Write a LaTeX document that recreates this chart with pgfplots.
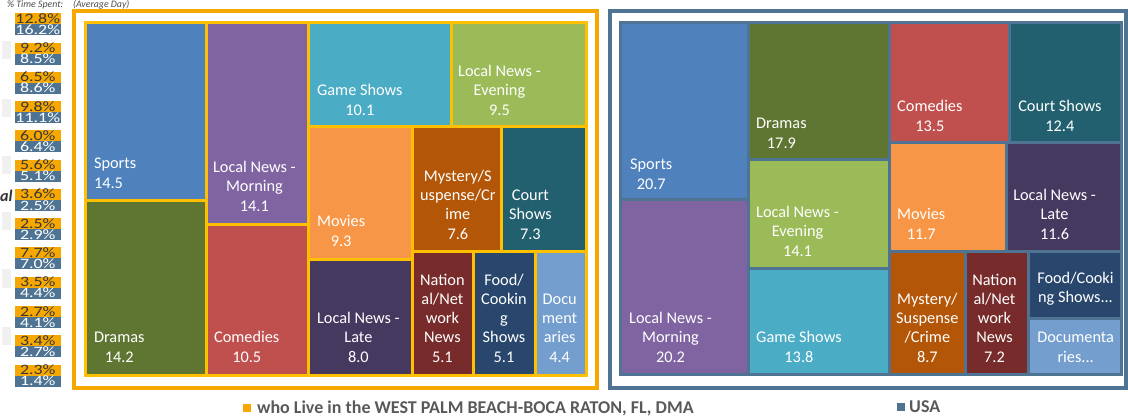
\documentclass[border=0pt]{standalone}
\usepackage{pgfplots}
\pgfplotsset{compat=1.18}
\usepackage{fontspec}
\setmainfont{Carlito}

\definecolor{frameor}{HTML}{F6A800}
\definecolor{tilebd}{HTML}{FFC000}
\definecolor{steel}{HTML}{4F7392}
\definecolor{cSports}{HTML}{4F81BD}
\definecolor{cDramas}{HTML}{5F7632}
\definecolor{cMorning}{HTML}{8064A2}
\definecolor{cComedies}{HTML}{C0504D}
\definecolor{cGame}{HTML}{4BACC6}
\definecolor{cEvening}{HTML}{9BBB59}
\definecolor{cMovies}{HTML}{F79646}
\definecolor{cLate}{HTML}{463960}
\definecolor{cMystery}{HTML}{B35608}
\definecolor{cCourt}{HTML}{22606F}
\definecolor{cNational}{HTML}{772B2A}
\definecolor{cFood}{HTML}{29476D}
\definecolor{cDoc}{HTML}{739ECE}
\definecolor{legtext}{HTML}{595959}

% filled rectangle x0 y0 x1 y1 colour
\newcommand{\tile}[5]{\addplot[draw=none,fill=#5] coordinates {(#1,#2) (#3,#2) (#3,#4) (#1,#4)};}
% percentage box: top, middle, bottom, DMA value, USA value
\newcommand{\pct}[5]{%
  \addplot[draw=none,fill=frameor] coordinates {(13,#1) (59,#1) (59,#2) (13,#2)};
  \addplot[draw=none,fill=steel] coordinates {(13,#2) (59,#2) (59,#3) (13,#3)};
  \node[pctlab,text=black!78] at (axis cs:36,#2) {\scalebox{1.25}[1]{#4}};
  \node[pctlab,text=white] at (axis cs:36,#3) {\scalebox{1.25}[1]{#5}};
}

\begin{document}
\begin{tikzpicture}[
  lab/.style={anchor=south west,inner sep=0pt,align=center,text=white,
    font=\fontsize{11.6}{13.6}\selectfont},
  pctlab/.style={anchor=base,inner sep=0pt,font=\fontsize{10.2}{10.2}\selectfont,yshift=0.7pt},
  legfont/.style={anchor=west,inner sep=0pt,text=legtext,font=\fontsize{12.8}{13}\selectfont\bfseries},
]
\begin{axis}[
  scale only axis,
  width=28.2cm, height=10.625cm,
  xmin=0, xmax=1128, ymin=0, ymax=425,
  y dir=reverse,
  hide axis,
  clip=false,
]
% header fragments
\node[anchor=west,inner sep=0pt,text=black!70,font=\fontsize{7}{7}\selectfont\itshape] at (axis cs:5,6) {\% Time Spent:};
\node[anchor=west,inner sep=0pt,text=black!70,font=\fontsize{7}{7}\selectfont\itshape] at (axis cs:71,6) {(Average Day)};

% cut-off row labels on the left
\tile{0}{43}{9}{61}{black!6}
\tile{0}{101}{9}{119}{black!6}
\tile{0}{158}{9}{176}{black!6}
\tile{0}{214}{9}{232}{black!6}
\tile{0}{271}{9}{289}{black!6}
\tile{0}{328}{9}{346}{black!6}
\node[anchor=base east,inner sep=0pt,text=black!80,font=\fontsize{11.5}{12}\selectfont\bfseries\itshape] at (axis cs:11,203) {al};

% percentage of time spent: DMA / USA
\pct{15.0}{26.0}{37.0}{12.8\%}{16.2\%}
\pct{44.25}{55.25}{66.25}{9.2\%}{8.5\%}
\pct{73.5}{84.5}{95.5}{6.5\%}{8.6\%}
\pct{102.75}{113.75}{124.75}{9.8\%}{11.1\%}
\pct{132.0}{143.0}{154.0}{6.0\%}{6.4\%}
\pct{161.25}{172.25}{183.25}{5.6\%}{5.1\%}
\pct{190.5}{201.5}{212.5}{3.6\%}{2.5\%}
\pct{219.75}{230.75}{241.75}{2.5\%}{2.9\%}
\pct{249.0}{260.0}{271.0}{7.7\%}{7.0\%}
\pct{278.25}{289.25}{300.25}{3.5\%}{4.4\%}
\pct{307.5}{318.5}{329.5}{2.7\%}{4.1\%}
\pct{336.75}{347.75}{358.75}{3.4\%}{2.7\%}
\pct{366.0}{377.0}{388.0}{2.3\%}{1.4\%}

% ---- West Palm Beach-Boca Raton treemap ----
\tile{70}{11}{597}{391}{frameor}
\tile{74}{15}{593}{387}{white}
\tile{82}{23}{586}{378}{tilebd}
\tile{85}{26}{203}{201}{cSports}
\tile{85}{204}{203}{375}{cDramas}
\tile{206}{26}{305}{225}{cMorning}
\tile{206}{228}{305}{375}{cComedies}
\tile{308}{26}{448}{127}{cGame}
\tile{451}{26}{583}{127}{cEvening}
\tile{308}{130}{409}{260}{cMovies}
\tile{308}{263}{409}{375}{cLate}
\tile{412}{130}{498}{252}{cMystery}
\tile{501}{130}{583}{252}{cCourt}
\tile{412}{255}{470}{375}{cNational}
\tile{473}{255}{532}{375}{cFood}
\tile{535}{255}{583}{375}{cDoc}

\node[lab,align=left] at (axis cs:92,190) {Sports\\14.5};
\node[lab] at (axis cs:92,364) {Dramas\\14.2};
\node[lab] at (axis cs:211,213) {Local News -\\Morning\\14.1};
\node[lab] at (axis cs:212,364) {Comedies\\10.5};
\node[lab] at (axis cs:315,117) {Game Shows\\10.1};
\node[lab] at (axis cs:456,117) {Local News -\\Evening\\9.5};
\node[lab] at (axis cs:315,248) {Movies\\9.3};
\node[lab] at (axis cs:315,364) {Local News -\\Late\\8.0};
\node[lab] at (axis cs:418,241) {Mystery/S\\uspense/Cr\\ime\\7.6};
\node[lab] at (axis cs:507,241) {Court\\Shows\\7.3};
\node[lab] at (axis cs:418,364) {Nation\\al/Net\\work\\News\\5.1};
\node[lab] at (axis cs:479,364) {Food/\\Cookin\\g\\Shows\\5.1};
\node[lab] at (axis cs:540,364) {Docu\\ment\\aries\\4.4};

% ---- USA treemap ----
\tile{606}{11}{1126}{391}{steel}
\tile{610}{15}{1122}{387}{white}
\tile{617}{23}{1121}{377}{steel}
\tile{620}{26}{745}{200}{cSports}
\tile{620}{203}{745}{374}{cMorning}
\tile{748}{26}{886}{160}{cDramas}
\tile{748}{163}{886}{269}{cEvening}
\tile{748}{272}{886}{374}{cGame}
\tile{889}{26}{1006}{143}{cComedies}
\tile{1009}{26}{1118}{143}{cCourt}
\tile{889}{146}{1003}{252}{cMovies}
\tile{1006}{146}{1118}{252}{cLate}
\tile{889}{255}{962}{374}{cMystery}
\tile{965}{255}{1025}{374}{cNational}
\tile{1028}{255}{1118}{318}{cFood}
\tile{1028}{321}{1118}{374}{cDoc}

\node[lab] at (axis cs:628,191) {Sports\\20.7};
\node[lab] at (axis cs:627,364) {Local News -\\Morning\\20.2};
\node[lab] at (axis cs:754,150) {Dramas\\17.9};
\node[lab] at (axis cs:754,258) {Local News -\\Evening\\14.1};
\node[lab] at (axis cs:754,364) {Game Shows\\13.8};
\node[lab] at (axis cs:895,133) {Comedies\\13.5};
\node[lab] at (axis cs:1016,133) {Court Shows\\12.4};
\node[lab] at (axis cs:895,241) {Movies\\11.7};
\node[lab] at (axis cs:1011,241) {Local News -\\Late\\11.6};
\node[lab] at (axis cs:894,364) {Mystery/\\Suspense\\/Crime\\8.7};
\node[lab] at (axis cs:970,364) {Nation\\al/Net\\work\\News\\7.2};
\node[lab] at (axis cs:1035,307) {Food/Cooki\\ng Shows...};
\node[lab] at (axis cs:1035,364) {Documenta\\ries...};

% ---- legend ----
\tile{241}{405}{249}{413}{frameor}
\node[legfont] at (axis cs:255,409.5) {who Live in the WEST PALM BEACH-BOCA RATON, FL, DMA};
\tile{895}{404}{903}{412}{steel}
\node[legfont] at (axis cs:907,408.5) {USA};
\end{axis}
\end{tikzpicture}
\end{document}
